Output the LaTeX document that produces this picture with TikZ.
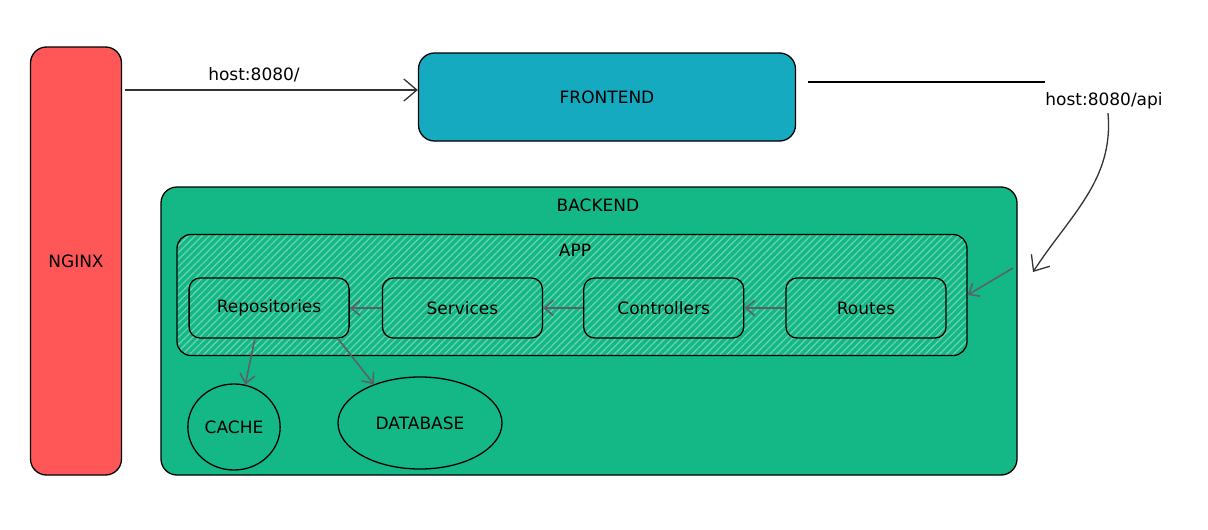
\documentclass[tikz,border=0pt]{standalone}
\usepackage{fontspec}
\setmainfont{DejaVu Sans}
\usetikzlibrary{positioning,arrows.meta,patterns.meta,shapes.geometric}

\definecolor{nginxred}{HTML}{FF5757}
\definecolor{frontcyan}{HTML}{15AABF}
\definecolor{backgreen}{HTML}{13B886}
\definecolor{hatchgreen}{HTML}{6BD3AE}
\definecolor{flowgrey}{HTML}{58626A}

\begin{document}
\begin{tikzpicture}[x=1pt, y=-1pt, node distance={40pt}, line width=1.3pt,
    font=\fontsize{17}{20}\selectfont,
    main/.style = {draw, rounded corners=16pt},
    layer/.style = {draw, rounded corners=11pt, minimum width=160pt, minimum height=60pt},
    store/.style = {draw, ellipse, fill=backgreen},
    link/.style = {-{Straight Barb[length=13pt,width=22pt]}, draw=black!80},
    flow/.style = {-{Straight Barb[length=9pt,width=15pt]}, draw=flowgrey, line width=1.6pt}]
    \useasboundingbox (0,0) rectangle (1208,530);
    \node[main, fill=nginxred, minimum width=91pt, minimum height=428pt] (nginx) at (76,261) {NGINX};
    \node[main, fill=frontcyan, minimum width=377pt, minimum height=88pt] (front) at (607,97) {FRONTEND};
    \node[main, fill=backgreen, minimum width=856pt, minimum height=288pt] (back) at (589,331) {};
    \node (backlbl) at (598,205) {BACKEND};
    \node[main, rounded corners=14pt, pattern={Lines[angle=45, distance=5pt, line width=1.2pt]},
      pattern color=hatchgreen, minimum width=790pt, minimum height=121pt] (app) at (572,295) {};
    \node (applbl) at (575,250) {APP};
    \node[layer] (routes) at (866,308) {Routes};
    \node[layer] (ctrl) [left=41pt of routes] {Controllers};
    \node[layer] (serv) [left=of ctrl] {Services};
    \node[layer] (repo) [left=32pt of serv] {Repositories};
    \node[store, minimum width=92pt, minimum height=86pt] (cache) at (234,427) {CACHE};
    \node[store, minimum width=164pt, minimum height=92pt] (db) at (420,423) {DATABASE};
    \node (frontlbl) at (254,75) {host:8080/};
    \node (apilbl) at (1104,101) {host:8080/api};
    \coordinate (nginxout) at (125,90);
    \coordinate (apiout) at (808,82);
    \coordinate (apiend) at (1033,272);
    \coordinate (appin) at (1013,268);
    \draw[link] (nginxout) -- (nginxout -| front.west);
    \draw (apiout) -- (1045,82);
    \draw[link] (apilbl.-72) .. controls (1114,180) and (1070,215) .. (apiend);
    \draw[flow] (appin) -- (app.east);
    \draw[flow] (routes) -- (ctrl);
    \draw[flow] (ctrl) -- (serv);
    \draw[flow] (serv) -- (repo);
    \draw[flow] (repo.245) -- (cache.75);
    \draw[flow] (repo.-24) -- (db.140);
\end{tikzpicture}
\end{document}
